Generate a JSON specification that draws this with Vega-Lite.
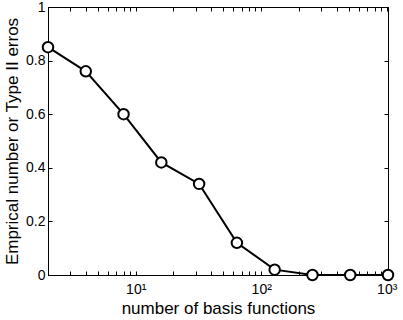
{
  "$schema": "https://vega.github.io/schema/vega-lite/v6.json",
  "autosize": "none",
  "width": 340,
  "height": 268,
  "padding": {"left": 48, "top": 7, "right": 15, "bottom": 45},
  "background": "white",
  "config": {
    "view": {"stroke": "black", "strokeWidth": 1},
    "font": "Liberation Sans",
    "axis": {
      "grid": false,
      "domainColor": "black",
      "tickColor": "black",
      "labelColor": "black",
      "titleColor": "black",
      "labelFont": "Liberation Sans",
      "titleFont": "Liberation Sans",
      "labelFontSize": 14,
      "titleFontSize": 17,
      "titleFontWeight": "normal",
      "tickSize": -4,
      "labelFlush": false,
      "labelOverlap": false
    }
  },
  "data": {
    "values": [
      {"n": 2, "err": 0.85},
      {"n": 4, "err": 0.76},
      {"n": 8, "err": 0.6},
      {"n": 16, "err": 0.42},
      {"n": 32, "err": 0.34},
      {"n": 64, "err": 0.12},
      {"n": 128, "err": 0.02},
      {"n": 256, "err": 0},
      {"n": 512, "err": 0},
      {"n": 1024, "err": 0}
    ]
  },
  "layer": [
    {
      "mark": {"type": "line", "color": "black", "strokeWidth": 2},
      "encoding": {
        "x": {
          "field": "n", "type": "quantitative",
          "scale": {"type": "log", "domain": [2, 1024], "nice": false},
          "axis": {
            "orient": "bottom",
            "title": "number of basis functions",
            "values": [2,3,4,5,6,7,8,9,10,20,30,40,50,60,70,80,90,100,200,300,400,500,600,700,800,900,1000],
            "labelExpr": "datum.value == 10 ? '10¹' : datum.value == 100 ? '10²' : datum.value == 1000 ? '10³' : ''",
            "labelPadding": 11,
            "titlePadding": 4
          }
        },
        "y": {
          "field": "err", "type": "quantitative",
          "scale": {"domain": [0, 1], "nice": false},
          "axis": {
            "orient": "left",
            "title": "Emprical number or Type II erros",
            "values": [0, 0.2, 0.4, 0.6, 0.8, 1],
            "format": ".1~f",
            "labelPadding": 7,
            "titlePadding": 4
          }
        }
      }
    },
    {
      "mark": {"type": "point", "shape": "circle", "filled": true, "fill": "white", "stroke": "black", "opacity": 1, "fillOpacity": 1, "size": 110, "strokeWidth": 2},
      "encoding": {
        "x": {
          "field": "n", "type": "quantitative",
          "axis": {
            "orient": "top",
            "title": null,
            "labels": false,
            "values": [2,3,4,5,6,7,8,9,10,20,30,40,50,60,70,80,90,100,200,300,400,500,600,700,800,900,1000]
          }
        },
        "y": {
          "field": "err", "type": "quantitative",
          "axis": {
            "orient": "right",
            "title": null,
            "labels": false,
            "values": [0, 0.2, 0.4, 0.6, 0.8, 1]
          }
        }
      }
    }
  ]
}
